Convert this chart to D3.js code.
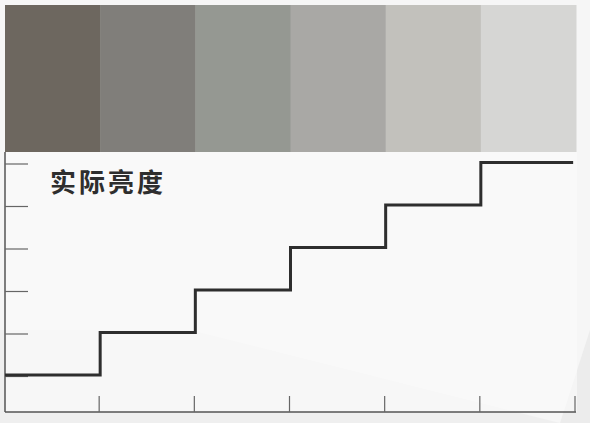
<!DOCTYPE html>
<html><head><meta charset="utf-8">
<script src="https://cdn.jsdelivr.net/npm/d3@7"></script>
<style>html,body{margin:0;padding:0;background:#f6f6f6;}svg{display:block;}</style>
</head><body>
<svg id="c" width="590" height="423"></svg>
<script>
const swatchColors = ["#6d675f", "#807e7a", "#959892", "#a9a8a5", "#c2c1bc", "#d6d6d4"];
const steps = [1, 2, 3, 4, 5, 6];
const levels = [1, 2, 3, 4, 5, 6];
const label = "实际亮度";

const svg = d3.select("#c");
// faint background shading
svg.append("rect").attr("width",590).attr("height",423).attr("fill","#f6f6f6");
svg.append("polygon").attr("points","0,423 0,330 190,330 560,423").attr("fill","#efefef");
svg.append("polygon").attr("points","560,423 590,330 590,423").attr("fill","#ececec");
svg.append("rect").attr("x",5).attr("y",152).attr("width",572).attr("height",260).attr("fill","#fcfcfc").attr("opacity",0.6);

const x = d3.scaleLinear().domain([0, 6]).range([5, 576]);
const y = d3.scaleLinear().domain([0, 6]).range([417.5, 162.5]);

// swatches
svg.selectAll("rect.sw").data(swatchColors).join("rect").attr("class","sw")
  .attr("x",(d,i)=>x(i)).attr("y",5).attr("width",(d,i)=>x(i+1)-x(i)+0.5).attr("height",147)
  .attr("fill",d=>d);

// axes
const g = svg.append("g");
g.append("line").attr("x1",5).attr("x2",5).attr("y1",152).attr("y2",412).attr("stroke","#555").attr("stroke-width",1.5);
g.append("line").attr("x1",5).attr("x2",576).attr("y1",412).attr("y2",412).attr("stroke","#555").attr("stroke-width",1.5);
g.selectAll("line.yt").data(levels).join("line").attr("class","yt")
  .attr("x1",5).attr("x2",28).attr("y1",d=>y(d)+1.5).attr("y2",d=>y(d)+1.5).attr("stroke","#666").attr("stroke-width",1.2);
g.selectAll("line.xt").data(steps).join("line").attr("class","xt")
  .attr("x1",d=>x(d)-1).attr("x2",d=>x(d)-1).attr("y1",396).attr("y2",412).attr("stroke","#666").attr("stroke-width",1.2);

// step line
const pts = levels.map((v,i)=>[i, v]).concat([[5.97, levels[levels.length-1]]]);
svg.append("path").datum(pts)
  .attr("d", d3.line().x(d=>x(d[0])).y(d=>y(d[1])).curve(d3.curveStepAfter))
  .attr("fill","none").attr("stroke","#2e2e2e").attr("stroke-width",3);

svg.append("text").attr("x",50).attr("y",192).text(label)
  .attr("font-family","'Noto Sans CJK SC', sans-serif").attr("font-weight","bold")
  .attr("font-size",26).attr("letter-spacing",3).attr("fill","#2e2e2e");
</script>
</body></html>
